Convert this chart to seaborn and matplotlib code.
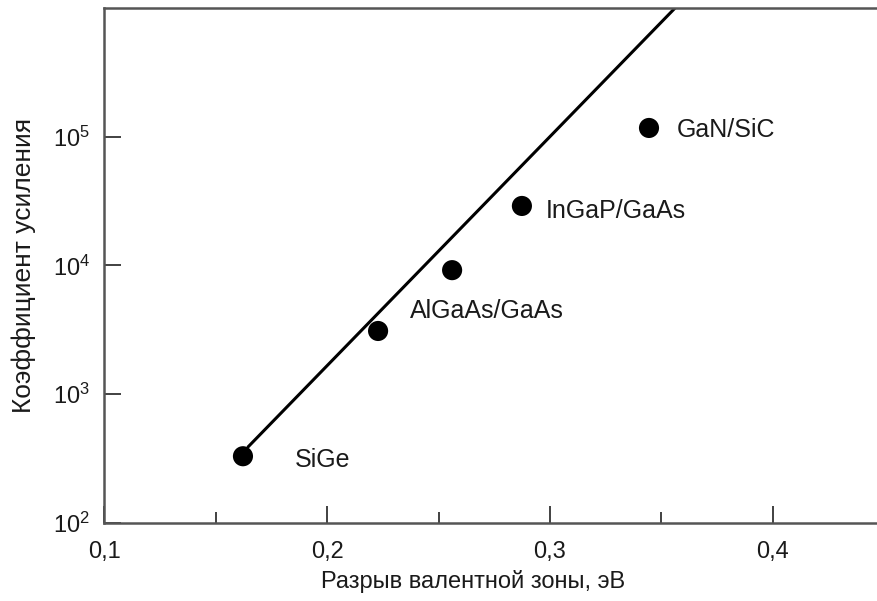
import numpy as np
import matplotlib
matplotlib.use('Agg')
import matplotlib.pyplot as plt
import seaborn as sns

# Данные
materials = ['SiGe', 'AlGaAs/GaAs', 'InGaP/GaAs', 'GaN/SiC']
offset_pts = [0.1623, 0.2229, 0.2561, 0.2874, 0.3444]
gain_pts = [330, 3100, 9200, 29000, 117000]
label_x = [0.1857, 0.2372, 0.2982, 0.357]
label_y = [308, 4440, 26500, 112700]

fit_x = [0.1646, 0.3561]
fit_y = [390, 1e6]

xticks = [0.1, 0.2, 0.3, 0.4]
xtick_labels = ['0,1', '0,2', '0,3', '0,4']
xminor = [0.15, 0.25, 0.35]
yticks = [1e2, 1e3, 1e4, 1e5]
ytick_labels = [r'$10^{2}$', r'$10^{3}$', r'$10^{4}$', r'$10^{5}$']

sns.set_style('ticks')
plt.rcParams['font.family'] = ['Liberation Sans', 'DejaVu Sans']
plt.rcParams['mathtext.fontset'] = 'custom'
plt.rcParams['mathtext.rm'] = 'Liberation Sans'
plt.rcParams['mathtext.it'] = 'Liberation Sans'

fig = plt.figure(figsize=(8.78, 6.01), dpi=100)
ax = fig.add_axes([0.1185, 0.1298, 0.8815, 0.8569])

sns.lineplot(x=fit_x, y=fit_y, ax=ax, color='black', linewidth=2.2)
sns.scatterplot(x=offset_pts, y=gain_pts, ax=ax, color='black', s=210,
                edgecolor='none', zorder=3)

# подписи к точкам
for name, tx, ty in zip(materials, label_x, label_y):
    ax.text(tx, ty, name, fontsize=18, va='center', ha='left', color='#1a1a1a')

ax.set_yscale('log')
ax.set_xlim(0.1, 0.4471)
ax.set_ylim(1e2, 1e6)

ax.set_xticks(xticks)
ax.set_xticklabels(xtick_labels)
ax.set_xticks(xminor, minor=True)
ax.set_yticks(yticks)
ax.set_yticklabels(ytick_labels)
ax.yaxis.set_minor_locator(matplotlib.ticker.NullLocator())

ax.tick_params(axis='both', which='major', direction='in', length=12, width=1.3,
               color='#333333', labelsize=17, labelcolor='#1a1a1a')
ax.tick_params(axis='x', which='minor', direction='in', length=8, width=1.3,
               color='#333333')
ax.tick_params(axis='x', which='major', pad=13)
ax.tick_params(axis='y', which='major', pad=10)

for side in ['left', 'bottom', 'top']:
    ax.spines[side].set_color('#555555')
    ax.spines[side].set_linewidth(1.8)
ax.spines['right'].set_visible(False)

ax.set_xlabel('Разрыв валентной зоны, эВ', fontsize=17, color='#1a1a1a', labelpad=5)
ax.xaxis.set_label_coords(0.477, -0.092)
ax.set_ylabel('Коэффициент усиления', fontsize=19, color='#1a1a1a', labelpad=12)

plt.savefig('out.png', dpi=100)
